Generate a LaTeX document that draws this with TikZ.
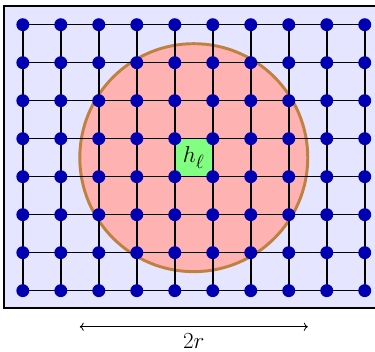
\documentclass[tikz,border=0pt]{standalone}
\usepackage{amsmath}
\usetikzlibrary{arrows.meta, positioning}
\tikzset{
  site/.style={
    circle,
    fill=blue!70!black,
    inner sep=0pt,
    minimum size=0.34cm
  },
  cell/.style={
    rectangle,
    fill=green!50,
    inner sep=0pt,
    minimum size=1cm,
    font=\fontsize{19}{22}\selectfont
  },
  bond/.style={black, line width=1.2pt},
  ball/.style={draw=brown, fill=red!30, line width=2.2pt},
  frame/.style={draw=black, fill=blue!10, line width=1.5pt},
  diam/.style={{To}-{To}, semithick}
}

\begin{document}
\begin{tikzpicture}
  \useasboundingbox (-0.6,0.65) rectangle (9.27,-8.59);
  \draw[frame] (-0.49,0.49) rectangle (9.49,-7.46);
  \draw[ball] (4.5,-3.5) circle (3);
  \node[cell] (hl) at (4.5,-3.5) {$h_\ell$};

  % lattice points
  \foreach \i in {0,...,9}
    \foreach \j in {0,...,7}
      \coordinate (p-\i-\j) at (\i,-\j);

  % bonds
  \foreach \i in {0,...,9}
    \draw[bond] (p-\i-0) -- (p-\i-7);
  \foreach \j in {0,...,7}
    \draw[bond] (p-0-\j) -- (p-9-\j);

  \foreach \i in {0,...,9}
    \foreach \j in {0,...,7}
      \node[site] (s-\i-\j) at (p-\i-\j) {};

  % diameter
  \coordinate (dl) at (1.5,-7.95);
  \coordinate (dr) at (7.5,-7.95);
  \draw[diam] (dl) -- node[below=4.5pt, inner sep=0pt, font=\fontsize{19}{22}\selectfont] (dlab) {$2r$} (dr);
\end{tikzpicture}
\end{document}
